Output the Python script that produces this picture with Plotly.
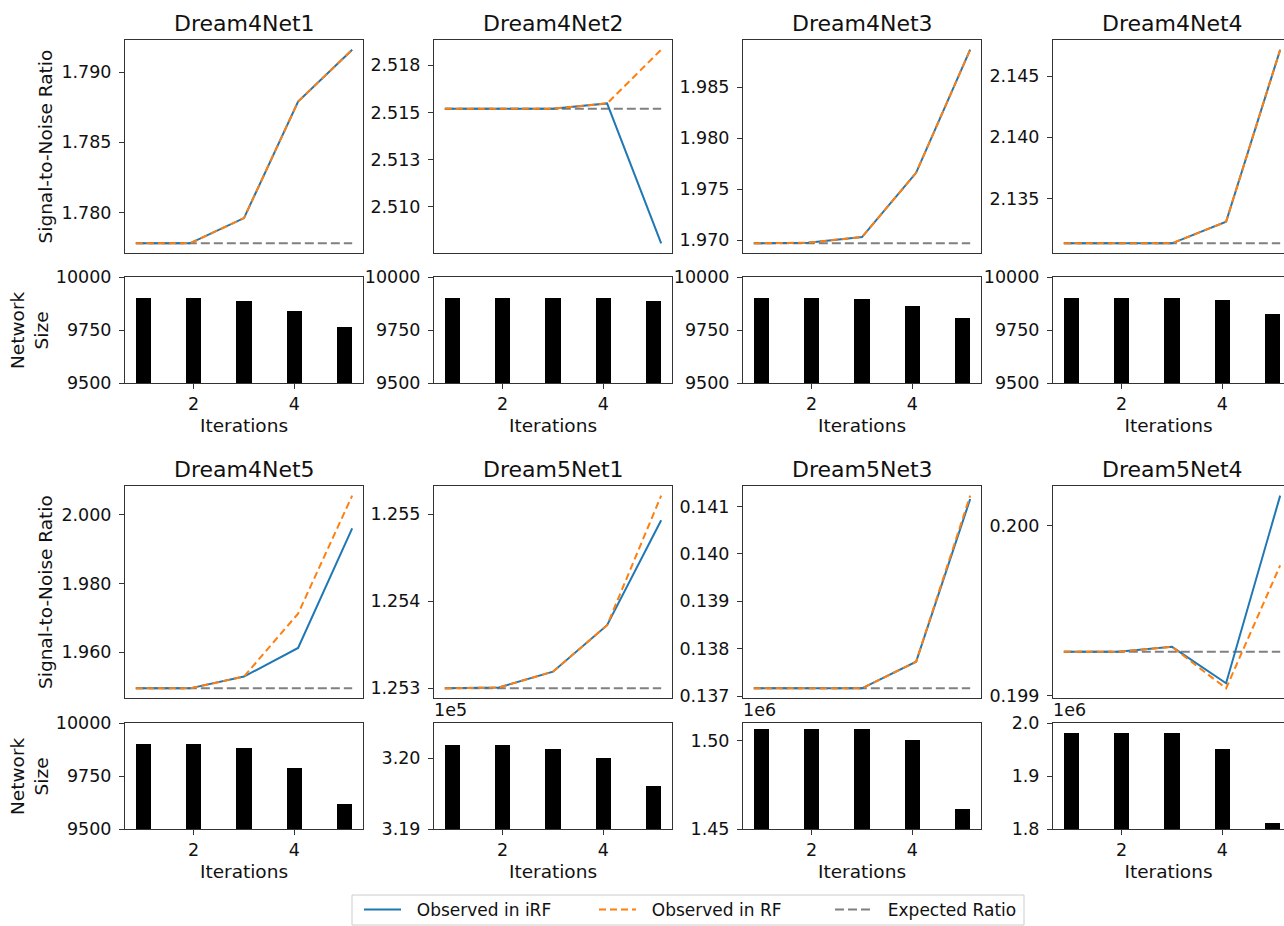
import plotly.graph_objects as go

W, H = 1284, 926

iterations = [1, 2, 3, 4, 5]
titles = ["Dream4Net1", "Dream4Net2", "Dream4Net3", "Dream4Net4",
          "Dream4Net5", "Dream5Net1", "Dream5Net3", "Dream5Net4"]

# Signal-to-noise ratio per iteration
d4n1_irf = [1.7778, 1.7778, 1.7796, 1.7879, 1.7916]
d4n1_rf = [1.7778, 1.7778, 1.7796, 1.7879, 1.7916]
d4n2_irf = [2.5152, 2.5152, 2.5152, 2.51548, 2.50806]
d4n2_rf = [2.5152, 2.5152, 2.5152, 2.51548, 2.51833]
d4n3_irf = [1.96968, 1.96974, 1.97029, 1.97659, 1.98866]
d4n3_rf = [1.96968, 1.96974, 1.97029, 1.97659, 1.98866]
d4n4_irf = [2.13132, 2.13132, 2.13132, 2.13309, 2.14718]
d4n4_rf = [2.13132, 2.13132, 2.13132, 2.13309, 2.14718]
d4n5_irf = [1.9495, 1.9495, 1.95294, 1.96126, 1.99606]
d4n5_rf = [1.9495, 1.9495, 1.95294, 1.97126, 2.00559]
d5n1_irf = [1.25300, 1.25301, 1.253192, 1.253725, 1.254930]
d5n1_rf = [1.25300, 1.25301, 1.253192, 1.253725, 1.255213]
d5n3_irf = [0.137164, 0.137164, 0.137164, 0.137725, 0.141158]
d5n3_rf = [0.137164, 0.137164, 0.137164, 0.137725, 0.141230]
d5n4_irf = [0.199258, 0.199258, 0.199287, 0.199073, 0.200176]
d5n4_rf = [0.199258, 0.199258, 0.199287, 0.199043, 0.199766]

expected = [1.7778, 2.5152, 1.96968, 2.13132, 1.9495, 1.25300, 0.137164, 0.199258]

# Network size per iteration
d4n1_size = [9900, 9900, 9888, 9842, 9766]
d4n2_size = [9900, 9900, 9900, 9899, 9886]
d4n3_size = [9900, 9900, 9894, 9864, 9805]
d4n4_size = [9900, 9900, 9900, 9891, 9825]
d4n5_size = [9900, 9900, 9882, 9789, 9619]
d5n1_size = [320190, 320178, 320132, 320000, 319608]
d5n3_size = [1506340, 1506340, 1506300, 1500000, 1461300]
d5n4_size = [1981017, 1981017, 1980900, 1950800, 1811900]

# Tick labels
snr_tickvals = [
    [1.780, 1.785, 1.790],
    [2.510, 2.5125, 2.515, 2.5175],
    [1.970, 1.975, 1.980, 1.985],
    [2.135, 2.140, 2.145],
    [1.960, 1.980, 2.000],
    [1.253, 1.254, 1.255],
    [0.137, 0.138, 0.139, 0.140, 0.141],
    [0.199, 0.200],
]
snr_ticktext = [
    ["1.780", "1.785", "1.790"],
    ["2.510", "2.513", "2.515", "2.518"],
    ["1.970", "1.975", "1.980", "1.985"],
    ["2.135", "2.140", "2.145"],
    ["1.960", "1.980", "2.000"],
    ["1.253", "1.254", "1.255"],
    ["0.137", "0.138", "0.139", "0.140", "0.141"],
    ["0.199", "0.200"],
]
d4_size_ticks = [9500, 9750, 10000]
d4_size_text = ["9500", "9750", "10000"]
size_tickvals = [d4_size_ticks] * 5 + [[319000, 320000], [1450000, 1500000], [1800000, 1900000, 2000000]]
size_ticktext = [d4_size_text] * 5 + [["3.19", "3.20"], ["1.45", "1.50"], ["1.8", "1.9", "2.0"]]
size_ranges = [[9500, 10000]] * 5 + [[319000, 320495], [1450000, 1509850], [1800000, 2000000]]
size_offset = [None] * 5 + ["1e5", "1e6", "1e6"]

irf_all = [d4n1_irf, d4n2_irf, d4n3_irf, d4n4_irf, d4n5_irf, d5n1_irf, d5n3_irf, d5n4_irf]
rf_all = [d4n1_rf, d4n2_rf, d4n3_rf, d4n4_rf, d4n5_rf, d5n1_rf, d5n3_rf, d5n4_rf]
size_all = [d4n1_size, d4n2_size, d4n3_size, d4n4_size, d4n5_size, d5n1_size, d5n3_size, d5n4_size]

BLUE, ORANGE, GRAY = "#1f77b4", "#ff7f0e", "#808080"
FONT = "DejaVu Sans"
AX = "#333333"
TXT = "#111111"
TICKFONT = dict(family=FONT, size=17.5, color=TXT)
GAP = "\u00a0\u00a0"

col_left = [125, 434, 743, 1053]
col_w = 238
line_rows = [(40, 253), (486, 698)]
bar_rows = [(277, 383), (723, 829)]

fig = go.Figure()
layout = {}
annotations = []

for p in range(8):
    r, c = divmod(p, 4)
    left = col_left[c]
    right = left + col_w
    vis_right = min(right, W)
    frac = (vis_right - left) / col_w
    last_col = right > W

    lx, ly = 2 * p + 1, 2 * p + 1
    bx, by = 2 * p + 2, 2 * p + 2
    lxa = "x" if lx == 1 else f"x{lx}"
    lya = "y" if ly == 1 else f"y{ly}"
    bxa = f"x{bx}"
    bya = f"y{by}"

    irf, rf, sz, ev = irf_all[p], rf_all[p], size_all[p], expected[p]
    allv = irf + rf + [ev]
    lo, hi = min(allv), max(allv)
    pad = 0.05 * (hi - lo)

    show = p == 0
    fig.add_trace(go.Scatter(x=iterations, y=[ev] * len(iterations), mode="lines",
                             line=dict(color=GRAY, width=2, dash="9px,4px"),
                             name=GAP + "Expected Ratio", legend="legend3", showlegend=show,
                             xaxis=lxa, yaxis=lya))
    fig.add_trace(go.Scatter(x=iterations, y=irf, mode="lines",
                             line=dict(color=BLUE, width=2),
                             name=GAP + "Observed in iRF", legend="legend", showlegend=show,
                             xaxis=lxa, yaxis=lya))
    fig.add_trace(go.Scatter(x=iterations, y=rf, mode="lines",
                             line=dict(color=ORANGE, width=2, dash="7px,4px"),
                             name=GAP + "Observed in RF", legend="legend2", showlegend=show,
                             xaxis=lxa, yaxis=lya))
    fig.add_trace(go.Bar(x=iterations, y=sz, width=0.3, marker=dict(color="black", line=dict(width=0)),
                         showlegend=False, xaxis=bxa, yaxis=bya))

    lt, lb = line_rows[r]
    bt, bb = bar_rows[r]
    xd = [left / W, vis_right / W]

    common = dict(showline=True, linecolor=AX, linewidth=1, showgrid=False, zeroline=False,
                  automargin=False)
    layout[f"xaxis{lx}" if lx > 1 else "xaxis"] = dict(
        domain=xd, anchor=lya, range=[0.8, 0.8 + 4.4 * frac], showticklabels=False, ticks="",
        mirror=True, **common)
    layout[f"yaxis{ly}" if ly > 1 else "yaxis"] = dict(
        domain=[1 - lb / H, 1 - lt / H], anchor=lxa, range=[lo - pad, hi + pad],
        tickvals=snr_tickvals[p], ticktext=snr_ticktext[p], ticks="outside", ticklen=5,
        tickcolor=AX, tickfont=TICKFONT, mirror=not last_col, ticklabelstandoff=4, **common)
    layout[f"xaxis{bx}"] = dict(
        domain=xd, anchor=bya, range=[0.635, 0.635 + 4.73 * frac], tickvals=[2, 4],
        ticktext=["2", "4"], ticks="outside", ticklen=5, tickcolor=AX, tickfont=TICKFONT,
        mirror=True, title=dict(text="Iterations", font=dict(family=FONT, size=18.5, color=TXT), standoff=6),
        **common)
    layout[f"yaxis{by}"] = dict(
        domain=[1 - bb / H, 1 - bt / H], anchor=bxa, range=size_ranges[p],
        tickvals=size_tickvals[p], ticktext=size_ticktext[p], ticks="outside", ticklen=5,
        tickcolor=AX, tickfont=TICKFONT, mirror=not last_col, ticklabelstandoff=4, **common)

    annotations.append(dict(text=titles[p], x=(left + col_w / 2) / W, y=1 - (lt - 2) / H,
                            xref="paper", yref="paper", xanchor="center", yanchor="bottom",
                            showarrow=False, font=dict(family=FONT, size=22, color=TXT)))
    if size_offset[p]:
        annotations.append(dict(text=size_offset[p], x=(left - 2) / W, y=1 - (bt - 1) / H,
                                xref="paper", yref="paper", xanchor="left", yanchor="bottom",
                                showarrow=False, font=dict(family=FONT, size=17.5, color=TXT)))

for r in range(2):
    lt, lb = line_rows[r]
    bt, bb = bar_rows[r]
    annotations.append(dict(text="Signal-to-Noise Ratio", x=45 / W, y=1 - (lt + lb) / 2 / H,
                            xref="paper", yref="paper", xanchor="center", yanchor="middle",
                            textangle=-90, showarrow=False,
                            font=dict(family=FONT, size=18.5, color=TXT)))
    annotations.append(dict(text="Network<br>Size", x=29 / W, y=1 - (bt + bb) / 2 / H,
                            xref="paper", yref="paper", xanchor="center", yanchor="middle",
                            textangle=-90, showarrow=False,
                            font=dict(family=FONT, size=18.5, color=TXT)))

legend_font = dict(family=FONT, size=17, color=TXT)
legend_y = 1 - 910 / H


def leg(xpix):
    return dict(orientation="h", x=xpix / W, y=legend_y, xanchor="left", yanchor="middle",
                borderwidth=0, bgcolor="rgba(0,0,0,0)", font=legend_font, itemwidth=37)


fig.update_layout(
    width=W, height=H, autosize=False,
    margin=dict(l=0, r=0, t=0, b=0, autoexpand=False),
    paper_bgcolor="white", plot_bgcolor="white",
    font=dict(family=FONT, color=TXT),
    annotations=annotations,
    shapes=[dict(type="rect", xref="paper", yref="paper",
                 x0=352 / W, x1=1024 / W, y0=1 - 925 / H, y1=1 - 895 / H,
                 line=dict(color="#cccccc", width=1), fillcolor="white", layer="below")],
    legend=leg(359),
    legend2=leg(594),
    legend3=leg(830),
    bargap=0,
    **layout,
)

fig.write_html("out.html", config={"displayModeBar": False},
               post_script="document.body.style.margin='0';document.body.style.overflow='hidden';")
